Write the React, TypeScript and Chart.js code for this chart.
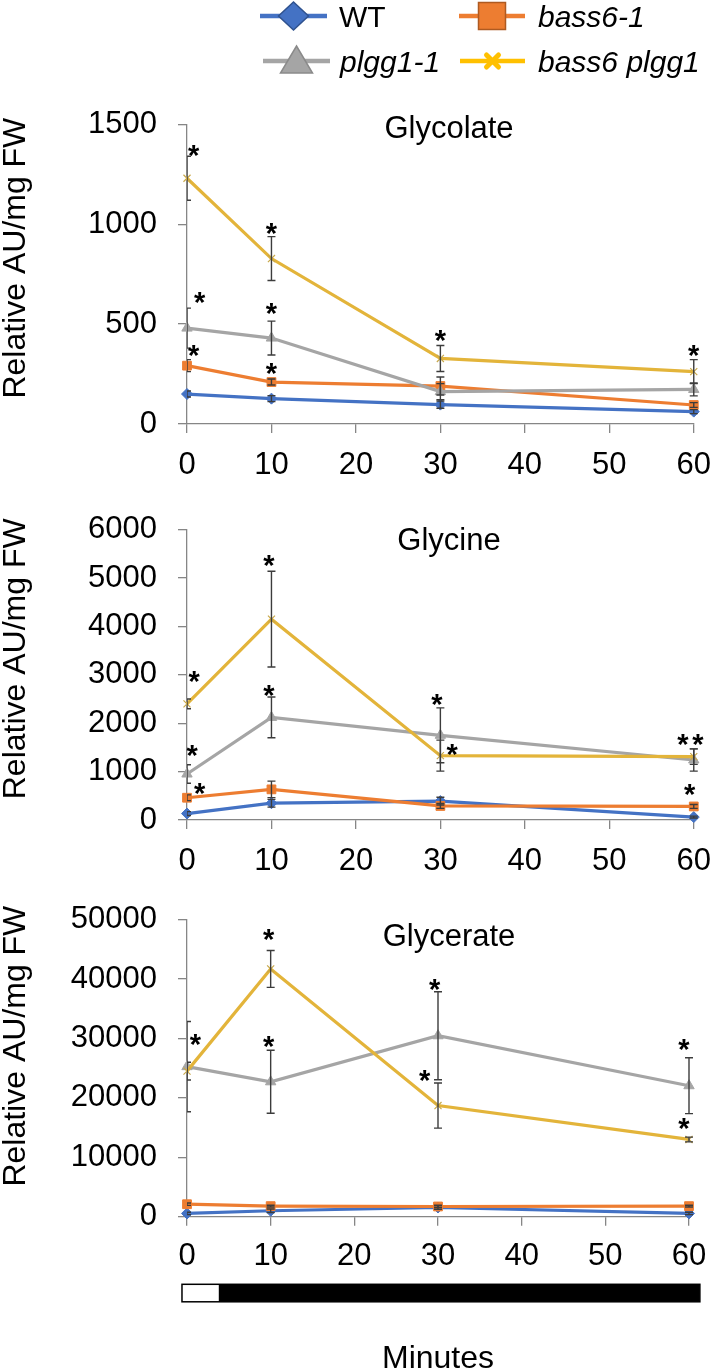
import React, { useEffect, useRef } from "react";
import { Chart, registerables } from "chart.js";

Chart.register(...registerables);

const FONT = '"Liberation Sans", Arial, Helvetica, sans-serif';

// ---------- data ----------
const minutes = [0, 10, 30, 60];
const xTicks = [0, 10, 20, 30, 40, 50, 60];

// Glycolate
const glycolateWT = [150, 127, 97, 62];
const glycolateBass6 = [292, 210, 190, 95];
const glycolatePlgg1 = [480, 430, 162, 173];
const glycolateDouble = [1230, 828, 328, 262];
const glycolateWTErr = [15, 15, 18, 10];
const glycolateBass6Err = [30, 15, 45, 12];
const glycolatePlgg1Err = [100, 85, 40, 32];
const glycolateDoubleErr = [110, 110, 65, 60];
const glycolateStarX = [0.8, 1.5, 0.8, 10, 10, 10, 30, 60];
const glycolateStarY = [1380, 645, 375, 987, 587, 287, 450, 375];

// Glycine
const glycineWT = [133, 347, 390, 60];
const glycineBass6 = [460, 633, 290, 280];
const glycinePlgg1 = [950, 2120, 1750, 1240];
const glycineDouble = [2400, 4150, 1330, 1310];
const glycineWTErr = [40, 80, 80, 20];
const glycineBass6Err = [60, 170, 50, 40];
const glycinePlgg1Err = [190, 420, 567, 230];
const glycineDoubleErr = [100, 990, 320, 160];
const glycineStarX = [0.85, 0.6, 1.5, 9.7, 9.7, 29.6, 31.4, 58.7, 60.5, 59.5];
const glycineStarY = [3000, 1467, 700, 5400, 2720, 2520, 1500, 1700, 1700, 667];

// Glycerate
const glycerateWT = [550, 1000, 1550, 550];
const glycerateBass6 = [2100, 1780, 1720, 1780];
const glyceratePlgg1 = [25250, 22700, 30450, 22040];
const glycerateDouble = [24500, 41700, 18700, 13000];
const glycerateWTErr = [200, 300, 300, 200];
const glycerateBass6Err = [200, 150, 200, 150];
const glyceratePlgg1Err = [7600, 5300, 7400, 4700];
const glycerateDoubleErr = [1500, 3100, 3800, 400];
const glycerateStarX = [1.0, 9.75, 9.75, 29.6, 28.4, 59.4, 59.4];
const glycerateStarY = [30150, 47850, 29860, 39390, 24060, 29320, 16040];

// light / dark bar (minutes)
const lightStart = -0.6;
const lightEnd = 3.8;
const darkEnd = 61.3;

// ---------- styles ----------
const SERIES = [
  { label: "WT", italic: false, line: "#4472C4", fill: "#4472C4", stroke: "#2F528F", style: "rectRot", r: 5.5, legendLine: "#4472C4" },
  { label: "bass6-1", italic: true, line: "#ED7D31", fill: "#ED7D31", stroke: "#AE5A21", style: "rect", r: 6.2, legendLine: "#ED7D31" },
  { label: "plgg1-1", italic: true, line: "#A5A5A5", fill: "#A5A5A5", stroke: "#8A8A8A", style: "triangle", r: 6, legendLine: "#A5A5A5" },
  { label: "bass6 plgg1", italic: true, line: "#E3B43A", fill: "#FFC000", stroke: "#C9A23A", style: "crossRot", r: 5, legendLine: "#FFC000" },
];

type Spec = {
  title: string;
  top: number;
  height: number;
  pad: { top: number; right: number; bottom: number; left: number };
  yMax: number;
  yStep: number;
  values: number[][];
  errors: number[][];
  starX: number[];
  starY: number[];
  titleDy: number;
  yTitleDy: number;
  xPad: number;
  legend?: boolean;
  timeBar?: boolean;
};

const SPECS: Spec[] = [
  {
    title: "Glycolate",
    top: 0,
    height: 490,
    pad: { top: 124.3, right: 19, bottom: 6, left: 0 },
    yMax: 1500,
    yStep: 500,
    values: [glycolateWT, glycolateBass6, glycolatePlgg1, glycolateDouble],
    errors: [glycolateWTErr, glycolateBass6Err, glycolatePlgg1Err, glycolateDoubleErr],
    starX: glycolateStarX,
    starY: glycolateStarY,
    titleDy: 13.7,
    yTitleDy: -16,
    xPad: 14,
    legend: true,
  },
  {
    title: "Glycine",
    top: 490,
    height: 390,
    pad: { top: 29.3, right: 19, bottom: 0, left: 0 },
    yMax: 6000,
    yStep: 1000,
    values: [glycineWT, glycineBass6, glycinePlgg1, glycineDouble],
    errors: [glycineWTErr, glycineBass6Err, glycinePlgg1Err, glycineDoubleErr],
    starX: glycineStarX,
    starY: glycineStarY,
    titleDy: 20.7,
    yTitleDy: -16,
    xPad: 14,
  },
  {
    title: "Glycerate",
    top: 880,
    height: 491,
    pad: { top: 35.3, right: 36, bottom: 94.3, left: 0 },
    yMax: 50000,
    yStep: 10000,
    values: [glycerateWT, glycerateBass6, glyceratePlgg1, glycerateDouble],
    errors: [glycerateWTErr, glycerateBass6Err, glyceratePlgg1Err, glycerateDoubleErr],
    starX: glycerateStarX,
    starY: glycerateStarY,
    titleDy: 26.7,
    yTitleDy: -22,
    xPad: 12,
    timeBar: true,
  },
];

const AXIS = "#868686";

function drawMarker(ctx: CanvasRenderingContext2D, kind: string, x: number, y: number, s: any) {
  ctx.save();
  ctx.fillStyle = s.fill;
  ctx.strokeStyle = s.stroke;
  ctx.lineWidth = 1.5;
  ctx.beginPath();
  if (kind === "rectRot") {
    ctx.moveTo(x, y - 14);
    ctx.lineTo(x + 15, y);
    ctx.lineTo(x, y + 14);
    ctx.lineTo(x - 15, y);
    ctx.closePath();
    ctx.fill();
    ctx.stroke();
  } else if (kind === "rect") {
    ctx.rect(x - 13.5, y - 13.5, 27, 27);
    ctx.fill();
    ctx.stroke();
  } else if (kind === "triangle") {
    ctx.moveTo(x, y - 15);
    ctx.lineTo(x + 16, y + 12);
    ctx.lineTo(x - 16, y + 12);
    ctx.closePath();
    ctx.fill();
    ctx.stroke();
  } else {
    ctx.strokeStyle = s.fill;
    ctx.lineWidth = 5;
    ctx.lineCap = "round";
    ctx.moveTo(x - 6, y - 6);
    ctx.lineTo(x + 6, y + 6);
    ctx.moveTo(x + 6, y - 6);
    ctx.lineTo(x - 6, y + 6);
    ctx.stroke();
  }
  ctx.restore();
}

function makePlugin(spec: Spec) {
  return {
    id: "annot",
    afterDatasetsDraw(chart: any) {
      const { ctx, chartArea } = chart;
      const xs = chart.scales.x;
      const ys = chart.scales.y;
      // error bars
      ctx.save();
      ctx.beginPath();
      ctx.rect(chartArea.left, 0, chart.width - chartArea.left, chart.height);
      ctx.clip();
      ctx.strokeStyle = "#3c3c3c";
      ctx.lineWidth = 1.4;
      spec.values.forEach((vals, i) => {
        vals.forEach((v, j) => {
          const e = spec.errors[i][j];
          const px = xs.getPixelForValue(minutes[j]);
          const y1 = ys.getPixelForValue(v + e);
          const y2 = ys.getPixelForValue(v - e);
          ctx.beginPath();
          ctx.moveTo(px, y1);
          ctx.lineTo(px, y2);
          ctx.moveTo(px - 4, y1);
          ctx.lineTo(px + 4, y1);
          ctx.moveTo(px - 4, y2);
          ctx.lineTo(px + 4, y2);
          ctx.stroke();
        });
      });
      ctx.restore();
    },
    afterDraw(chart: any) {
      const { ctx, chartArea } = chart;
      const xs = chart.scales.x;
      const ys = chart.scales.y;
      ctx.save();
      ctx.fillStyle = "#000";
      // asterisks
      const sz = 29;
      ctx.font = `bold ${sz}px ${FONT}`;
      ctx.textAlign = "center";
      ctx.textBaseline = "alphabetic";
      spec.starX.forEach((sx, k) => {
        const px = xs.getPixelForValue(sx);
        const py = ys.getPixelForValue(spec.starY[k]);
        ctx.fillText("*", px, py + 0.565 * sz);
      });
      // panel title
      ctx.font = `31px ${FONT}`;
      ctx.textAlign = "center";
      ctx.fillText(spec.title, 449, chartArea.top + spec.titleDy);
      // y title
      ctx.save();
      ctx.translate(25, (chartArea.top + chartArea.bottom) / 2 + spec.yTitleDy);
      ctx.rotate(-Math.PI / 2);
      ctx.font = `32px ${FONT}`;
      ctx.textAlign = "center";
      ctx.textBaseline = "alphabetic";
      ctx.fillText("Relative AU/mg FW", 0, 0);
      ctx.restore();

      if (spec.legend) {
        const pos = [
          { x0: 260, x1: 327, y: 16, tx: 339 },
          { x0: 459, x1: 525, y: 16, tx: 538 },
          { x0: 263, x1: 330, y: 61, tx: 340 },
          { x0: 460, x1: 525, y: 61, tx: 538 },
        ];
        SERIES.forEach((s, i) => {
          const p = pos[i];
          ctx.save();
          ctx.strokeStyle = s.legendLine;
          ctx.lineWidth = 4.5;
          ctx.beginPath();
          ctx.moveTo(p.x0, p.y);
          ctx.lineTo(p.x1, p.y);
          ctx.stroke();
          ctx.restore();
          drawMarker(ctx, s.style, (p.x0 + p.x1) / 2, p.y, s);
          ctx.fillStyle = "#000";
          ctx.font = `${s.italic ? "italic " : ""}30px ${FONT}`;
          ctx.textAlign = "left";
          ctx.textBaseline = "alphabetic";
          ctx.fillText(s.label, p.tx, p.y + 11);
        });
      }

      if (spec.timeBar) {
        const top = chartArea.bottom + 67.6;
        const h = 17.5;
        const a = xs.getPixelForValue(lightStart);
        const b = xs.getPixelForValue(lightEnd);
        const c = xs.getPixelForValue(darkEnd);
        ctx.fillStyle = "#fff";
        ctx.fillRect(a, top, b - a, h);
        ctx.fillStyle = "#000";
        ctx.fillRect(b, top, c - b, h);
        ctx.strokeStyle = "#000";
        ctx.lineWidth = 1.5;
        ctx.strokeRect(a, top, c - a, h);
        ctx.font = `32px ${FONT}`;
        ctx.textAlign = "center";
        ctx.fillStyle = "#000";
        ctx.fillText("Minutes", (chartArea.left + chartArea.right) / 2, chartArea.bottom + 151.6);
      }
      ctx.restore();
    },
  };
}

function buildConfig(spec: Spec): any {
  return {
    type: "line",
    data: {
      datasets: SERIES.map((s, i) => ({
        label: s.label,
        data: minutes.map((m, j) => ({ x: m, y: spec.values[i][j] })),
        borderColor: s.line,
        backgroundColor: s.fill,
        pointBackgroundColor: s.style === "crossRot" ? s.line : s.fill,
        pointBorderColor: s.style === "crossRot" ? "#C8A84A" : s.line,
        pointBorderWidth: s.style === "crossRot" ? 1.2 : 1,
        pointStyle: s.style,
        pointRadius: s.r,
        borderWidth: 3.2,
        tension: 0,
        clip: false,
        order: 4 - i,
      })),
    },
    options: {
      animation: false,
      responsive: false,
      devicePixelRatio: 1,
      events: [],
      layout: { padding: spec.pad },
      plugins: { legend: { display: false }, tooltip: { enabled: false }, title: { display: false } },
      scales: {
        x: {
          type: "linear",
          min: 0,
          max: 60,
          afterFit: (s: any) => {
            s.height = 60;
          },
          afterBuildTicks: (s: any) => {
            s.ticks = xTicks.map((v) => ({ value: v }));
          },
          border: { display: true, color: AXIS, width: 1.3 },
          grid: { display: true, drawOnChartArea: false, drawTicks: true, tickLength: 9, color: AXIS, lineWidth: 1.3 },
          ticks: {
            color: "#000",
            font: { family: FONT, size: 31 },
            padding: spec.xPad,
            maxRotation: 0,
            autoSkip: false,
            callback: (v: any) => String(v),
          },
        },
        y: {
          type: "linear",
          min: 0,
          max: spec.yMax,
          afterFit: (s: any) => {
            s.width = 187;
          },
          ticks: {
            stepSize: spec.yStep,
            color: "#000",
            font: { family: FONT, size: 31 },
            padding: 21,
            callback: (v: any) => String(v),
          },
          border: { display: true, color: AXIS, width: 1.3 },
          grid: { display: true, drawOnChartArea: false, drawTicks: true, tickLength: 9, color: AXIS, lineWidth: 1.3 },
        },
      },
    },
    plugins: [makePlugin(spec)],
  };
}

function Panel({ spec }: { spec: Spec }) {
  const ref = useRef<HTMLCanvasElement>(null);
  useEffect(() => {
    if (!ref.current) return;
    const chart = new Chart(ref.current, buildConfig(spec));
    return () => chart.destroy();
  }, [spec]);
  return (
    <canvas
      ref={ref}
      width={725}
      height={spec.height}
      style={{ position: "absolute", left: 0, top: spec.top, width: 725, height: spec.height, display: "block" }}
    />
  );
}

export default function App() {
  return (
    <div style={{ position: "absolute", left: 0, top: 0, width: 725, height: 1371, background: "#fff", overflow: "hidden" }}>
      {SPECS.map((s) => (
        <Panel key={s.title} spec={s} />
      ))}
    </div>
  );
}
